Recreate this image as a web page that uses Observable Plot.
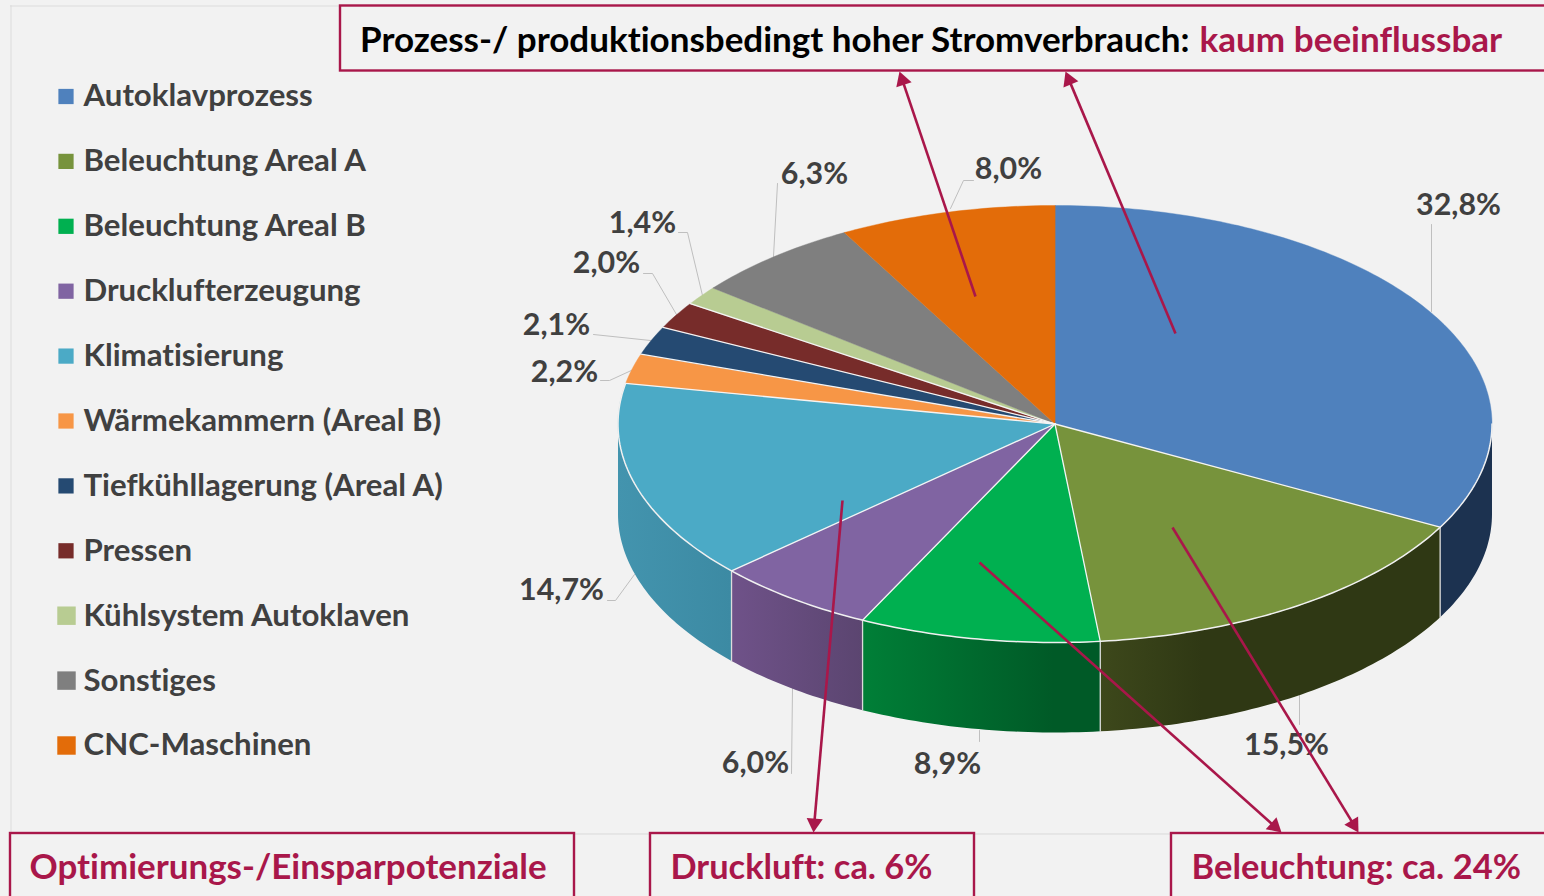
<!DOCTYPE html>
<html><head><meta charset="utf-8">
<script src="https://cdn.jsdelivr.net/npm/d3@7"></script>
<script src="https://cdn.jsdelivr.net/npm/@observablehq/plot@0.6"></script>
<style>html,body{margin:0;padding:0;background:#f2f2f2;overflow:hidden}svg{display:block}svg text{font-variant-ligatures:none}</style>
</head><body><div id="chart"></div>
<script>
// ---- chart data ----
const names = ["Autoklavprozess","Beleuchtung Areal A","Beleuchtung Areal B","Drucklufterzeugung","Klimatisierung","Wärmekammern (Areal B)","Tiefkühllagerung (Areal A)","Pressen","Kühlsystem Autoklaven","Sonstiges","CNC-Maschinen"];
const shares = [32.8,15.5,8.9,6.0,14.7,2.2,2.1,2.0,1.4,6.3,8.0];
const colors = ["#4f81bd","#77933c","#00b050","#8064a2","#4baac6","#f79646","#254a72","#772c2a","#b8cc92","#7f7f7f","#e36c09"];
// ---- annotations ----
const headline = "Prozess-/ produktionsbedingt hoher Stromverbrauch: ";
const headlineRed = "kaum beeinflussbar";
const bottomTexts = ["Optimierungs-/Einsparpotenziale","Druckluft: ca. 6%","Beleuchtung: ca. 24%"];
// ---- layout (pixel frame of the picture) ----
const W = 1544, H = 896;
const cx = 1054.5, cy = 423.5, rx = 437, ry = 218.5, depth = 90;
const red = "#a9174a";
const labelX = [1458,1286,947,755,561,564,556,606,642,814,1008];
const labelY = [205,745,764,763,590,372,325,263,223,174,169];
const bottomX = [29,670,1191];
const bottomSize = [34.95,34.4,34.5];
const leaders = [
  [[1431,224],[1431,311]],
  [[1299,695],[1299,724]],
  [[979,730],[979,741]],
  [[792,688],[791,773]],
  [[607,600],[615,600],[634,574]],
  [[600,380],[609,380],[633,369]],
  [[593,334],[650,340]],
  [[643,273],[652,273],[676,314]],
  [[678,232],[687,232],[702,295]],
  [[777,183],[773,256]],
  [[973,180],[963,180],[950,208]]
];
const arrows = [
  {x1:975,y1:296,x2:899,y2:71},
  {x1:1175,y1:333,x2:1065,y2:71},
  {x1:842,y1:500,x2:813,y2:832},
  {x1:979,y1:562,x2:1281,y2:832},
  {x1:1172,y1:527,x2:1358,y2:832}
];
const boxes = [
  {x1:340,x2:1600,y1:5.5,y2:70.5},
  {x1:10,x2:574,y1:833,y2:930},
  {x1:650,x2:974,y1:833,y2:930},
  {x1:1171,x2:1600,y1:833,y2:930}
];
const sideGradients = [
  [[0,"#1c3250"],[1,"#1c3250"]],
  [[0,"#3d481b"],[0.3,"#2f3814"],[1,"#2f3814"]],
  [[0,"#007f37"],[0.8,"#005a27"],[1,"#005a27"]],
  [[0,"#6f5289"],[1,"#5b4570"]],
  [[0,"#4394ae"],[1,"#3c8aa3"]]
];
// ---- geometry derived from the values ----
const total = d3.sum(shares);
const cum = d3.cumsum(shares);
const startA = i => (i === 0 ? 0 : cum[i-1]) / total * 2 * Math.PI;
const endA = i => cum[i] / total * 2 * Math.PI;
const pt = (a, dz = 0) => ({x: cx + rx*Math.sin(a), y: cy - ry*Math.cos(a) + dz});
const arc = (a0, a1, dz = 0) => d3.range(0, 1.0001, 1/Math.max(2, Math.ceil((a1-a0)*60))).map(t => pt(a0 + (a1-a0)*t, dz));
const topPts = names.flatMap((name,i) => [{x:cx,y:cy}, ...arc(startA(i), endA(i))].map(p => ({...p,name})));
const frontEnd = 3*Math.PI/2;
const sides = names.map((name,i) => {
  const a0 = Math.max(startA(i), Math.PI/2), a1 = Math.min(endA(i), frontEnd);
  return a1 > a0 ? {i, pts:[...arc(a0,a1), ...arc(a0,a1,depth).reverse()]} : null;
}).filter(Boolean);
const spokes = d3.range(0,8).flatMap(i => [{x:cx,y:cy,i}, {...pt(endA(i)), i}]);
const seams = sides.slice(1).flatMap(s => { const a = startA(s.i); return [{...pt(a),i:s.i},{...pt(a,depth),i:s.i}]; });
const frontArc = arc(Math.PI/2, endA(4));
const tri = arrows.map(d => {
  const len = Math.hypot(d.x2-d.x1, d.y2-d.y1), ux=(d.x2-d.x1)/len, uy=(d.y2-d.y1)/len;
  return {x:d.x2-ux*9.3, y:d.y2-uy*9.3, rotate:Math.atan2(ux,-uy)*180/Math.PI};
});
const arrowLines = arrows.map(d => { 
  const len = Math.hypot(d.x2-d.x1, d.y2-d.y1);
  return {x1:d.x1,y1:d.y1,x2:d.x2-(d.x2-d.x1)/len*8,y2:d.y2-(d.y2-d.y1)/len*8};
});
const labelData = shares.map((v,i) => ({x:labelX[i],y:labelY[i],t:v.toFixed(1).replace(".",",")+"%"}));
const legend = names.map((name,i) => ({name, x:i<8?65.5:66, y:96 + i*64.9}));
const font = "Lato, Carlito, sans-serif";

const defs = () => {
  const s = d3.create("svg:defs");
  sideGradients.forEach((g,i) => {
    const lg = s.append("linearGradient").attr("id","side"+i);
    g.forEach(([o,c]) => lg.append("stop").attr("offset",o).attr("stop-color",c));
  });
  return s.node();
};

const chart = Plot.plot({
  width:W, height:H, margin:0,
  x:{domain:[0,W],range:[0,W],axis:null},
  y:{domain:[0,H],range:[0,H],axis:null},
  color:{domain:names,range:colors},
  style:{background:"#f2f2f2",fontFamily:font},
  marks:[
    defs,
    // frame of the slide
    Plot.ruleX([10.5],{y1:5,y2:833,stroke:"#dcdcdc"}),
    Plot.ruleY([5.5],{x1:10,x2:340,stroke:"#dcdcdc"}),
    Plot.ruleY([833.5],{x1:10,x2:1544,stroke:"#d9d9d9"}),
    // leaders
    ...leaders.map(l => Plot.line(l,{x:d=>d[0],y:d=>d[1],stroke:"#bfbfbf",strokeWidth:1})),
    // pie body
    ...sides.map((s,k) => Plot.line(s.pts,{x:"x",y:"y",fill:`url(#side${k})`,stroke:"none",curve:"linear-closed"})),
    Plot.line(seams,{x:"x",y:"y",z:"i",stroke:"#dcdcdc",strokeWidth:1.3}),
    Plot.line(topPts,{x:"x",y:"y",z:"name",fill:"name",stroke:"name",strokeWidth:0.4,curve:"linear-closed"}),
    Plot.line(spokes,{x:"x",y:"y",z:"i",stroke:"#f4f4f4",strokeWidth:1.3}),
    Plot.line(frontArc,{x:"x",y:"y",stroke:"#f0f0f0",strokeWidth:1.5}),
    // value labels
    Plot.text(labelData,{x:"x",y:"y",text:"t",fontSize:30.4,fontWeight:700,fill:"#404040"}),
    // legend
    Plot.dot(legend.slice(0,8),{x:"x",y:"y",symbol:"square",r:8.6,fill:"name"}),
    Plot.dot(legend.slice(8),{x:"x",y:"y",symbol:"square",r:10.4,fill:"name"}),
    Plot.text(legend,{x:83,y:"y",text:"name",textAnchor:"start",fontSize:31.2,fontWeight:700,fill:"#404040"}),
    // boxes
    Plot.rect(boxes,{x1:"x1",x2:"x2",y1:"y1",y2:"y2",fill:"#f2f2f2",stroke:red,strokeWidth:2.4}),
    Plot.text([headline],{x:359.5,y:40.5,text:d=>d,textAnchor:"start",fontSize:35,fontWeight:700,fill:"#000"}),
    Plot.text([headlineRed],{x:1199,y:40.5,text:d=>d,textAnchor:"start",fontSize:35.1,fontWeight:700,fill:red}),
    ...bottomTexts.map((t,i)=>Plot.text([t],{x:bottomX[i],y:867.5,text:d=>d,textAnchor:"start",fontSize:bottomSize[i],fontWeight:700,fill:red})),
    // arrows
    Plot.link(arrowLines,{x1:"x1",y1:"y1",x2:"x2",y2:"y2",stroke:red,strokeWidth:2.6}),
    Plot.dot(tri,{x:"x",y:"y",symbol:"triangle2",r:7.7,rotate:"rotate",fill:red})
  ]
});
document.getElementById("chart").append(chart);
</script></body></html>
